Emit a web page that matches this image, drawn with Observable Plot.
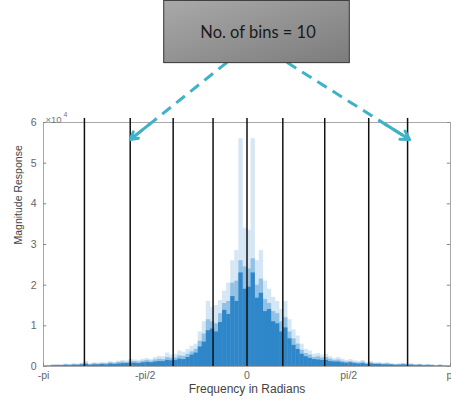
<!DOCTYPE html>
<html><head><meta charset="utf-8">
<script src="https://cdn.jsdelivr.net/npm/d3@7"></script>
<script src="https://cdn.jsdelivr.net/npm/@observablehq/plot@0.6"></script>
<style>html,body{margin:0;padding:0;background:#fff;overflow:hidden}</style>
</head><body><div id="chart"></div>
<script>
// Spectrum bins (index k covers [k*0.02pi, (k+1)*0.02pi]), magnitudes in units of 10^4
const binIndex = d3.range(-50, 50);
const lightMag = [
 0.02,0.03,0.04,0.05,0.04,0.06,0.05,0.07,0.06,0.08,
 0.12,0.07,0.09,0.08,0.10,0.09,0.12,0.10,0.13,0.15,
 0.14,0.18,0.16,0.15,0.18,0.20,0.17,0.22,0.25,0.24,
 0.33,0.28,0.30,0.38,0.35,0.42,0.50,0.55,0.85,1.10,
 1.60,1.45,1.50,1.62,1.85,2.05,2.60,2.85,5.60,3.40,
 3.35,5.60,2.60,2.85,2.10,1.90,1.70,1.60,1.40,1.60,
 1.15,0.90,0.75,0.55,0.42,0.38,0.30,0.32,0.28,0.30,
 0.24,0.20,0.22,0.18,0.15,0.17,0.14,0.12,0.15,0.10,
 0.12,0.09,0.10,0.08,0.09,0.07,0.06,0.07,0.08,0.06,
 0.07,0.05,0.06,0.04,0.05,0.04,0.03,0.04,0.03,0.02];
const midMag = [
 0.01,0.02,0.03,0.03,0.03,0.04,0.04,0.05,0.04,0.06,
 0.08,0.05,0.07,0.06,0.07,0.07,0.09,0.08,0.10,0.11,
 0.10,0.13,0.12,0.11,0.13,0.15,0.13,0.16,0.18,0.17,
 0.22,0.20,0.21,0.26,0.25,0.30,0.36,0.42,0.62,0.80,
 1.15,1.10,1.05,1.30,1.55,1.60,2.05,2.10,2.60,2.45,
 2.40,2.65,2.00,2.15,1.65,1.55,1.35,1.30,1.10,1.20,
 0.85,0.68,0.55,0.40,0.32,0.28,0.22,0.24,0.21,0.22,
 0.18,0.15,0.16,0.13,0.11,0.12,0.10,0.09,0.11,0.07,
 0.09,0.07,0.07,0.06,0.07,0.05,0.04,0.05,0.06,0.04,
 0.05,0.04,0.04,0.03,0.04,0.03,0.02,0.03,0.02,0.01];
const darkMag = [
 0.01,0.01,0.02,0.02,0.02,0.03,0.02,0.03,0.03,0.04,
 0.05,0.03,0.04,0.04,0.05,0.04,0.06,0.05,0.06,0.07,
 0.07,0.08,0.08,0.07,0.09,0.10,0.09,0.11,0.12,0.12,
 0.15,0.14,0.15,0.18,0.17,0.22,0.28,0.33,0.48,0.60,
 0.88,0.92,0.85,1.08,1.38,1.28,1.72,1.60,2.30,1.90,
 1.95,2.30,1.68,1.80,1.35,1.40,1.10,1.05,0.85,0.95,
 0.68,0.52,0.42,0.30,0.24,0.20,0.17,0.16,0.15,0.15,
 0.12,0.11,0.11,0.09,0.08,0.09,0.07,0.06,0.07,0.05,
 0.06,0.05,0.05,0.04,0.04,0.04,0.03,0.03,0.04,0.03,
 0.03,0.02,0.03,0.02,0.02,0.02,0.01,0.02,0.01,0.01];
// bin boundaries (radians) - 9 edges => 10 bins
const binEdges = [-2.510, -1.803, -1.140, -0.524, 0, 0.553, 1.200, 1.879, 2.479];
const xTicks = [-Math.PI, -Math.PI/2, 0, Math.PI/2, Math.PI];
const xTickLabels = ["-pi", "-pi/2", "0", "pi/2", "pi"];
const yTicks = [0, 1, 2, 3, 4, 5, 6];
const boxLabel = "No. of bins = 10";
// annotation geometry in data coordinates
const boxArea = [{x1: -1.278, x2: 1.587, y1: 7.46, y2: 8.99}];
const boxText = [{x: 0.17, y: 8.22}];
const arrows = [
  {x1: -0.308, y1: 7.48, x2: -1.802, y2: 5.58},
  {x1: 0.616, y1: 7.48, x2: 2.510, y2: 5.58}
];

const step = 0.02 * Math.PI;
const table = binIndex.map((k, i) => ({
  x1: k * step, x2: (k + 1) * step + 0.004,
  light: lightMag[i], mid: midMag[i], dark: darkMag[i]
}));
const heads = arrows.map(a => ({
  x1: a.x2 - (a.x2 - a.x1) * 0.2, y1: a.y2 - (a.y2 - a.y1) * 0.2, x2: a.x2, y2: a.y2
}));
const teal = "#3fb2c8";

const plot = Plot.plot({
  width: 451, height: 401,
  marginTop: 122, marginBottom: 35, marginLeft: 43, marginRight: 1,
  style: {fontFamily: "'Liberation Sans', Arial, sans-serif", fontSize: "10px", background: "#fff"},
  x: {domain: [-Math.PI, Math.PI]},
  y: {domain: [0, 6]},
  marks: [
    Plot.rectY(table, {x1: "x1", x2: "x2", y: "light", fill: "#d5e7f5"}),
    Plot.rectY(table, {x1: "x1", x2: "x2", y: "mid", fill: "#92c1e6"}),
    Plot.rectY(table, {x1: "x1", x2: "x2", y: "dark", fill: "#2f87c9"}),
    Plot.frame({stroke: "#a8a8a8"}),
    Plot.ruleY(yTicks, {x1: -Math.PI, x2: -Math.PI + 0.05, stroke: "#888"}),
    Plot.ruleY(yTicks, {x1: Math.PI - 0.05, x2: Math.PI, stroke: "#888"}),
    Plot.ruleX(xTicks, {y1: 0, y2: 0.08, stroke: "#888"}),
    Plot.ruleX(binEdges, {y1: 0, y2: 6.1, stroke: "#111", strokeWidth: 1.5}),
    Plot.axisY({ticks: yTicks, tickFormat: d => String(d), tickSize: 0, tickPadding: 7, color: "#666", fontSize: 10.5, label: null}),
    Plot.axisX({ticks: xTicks, tickFormat: (d, i) => xTickLabels[i], tickSize: 0, tickPadding: 5, color: "#666", fontSize: 10.5, label: null}),
    Plot.text(["Magnitude Response"], {frameAnchor: "left", dx: -25, rotate: -90, lineAnchor: "middle", fill: "#444", fontSize: 10.5}),
    Plot.text(["Frequency in Radians"], {frameAnchor: "bottom", dy: 23, lineAnchor: "middle", fill: "#444", fontSize: 12}),
    Plot.text(["\u00d710"], {frameAnchor: "top-left", dx: 2, dy: -6, textAnchor: "start", fill: "#777", fontSize: 9.5}),
    Plot.text(["4"], {frameAnchor: "top-left", dx: 20, dy: -10, textAnchor: "start", fill: "#777", fontSize: 7}),
    Plot.link(arrows, {x1: "x1", y1: "y1", x2: "x2", y2: "y2", stroke: teal, strokeWidth: 3, strokeDasharray: "11,7", clip: false}),
    Plot.arrow(heads, {x1: "x1", y1: "y1", x2: "x2", y2: "y2", stroke: teal, strokeWidth: 3, headLength: 12, clip: false}),
    Plot.rect(boxArea, {x1: "x1", x2: "x2", y1: "y1", y2: "y2", fill: "url(#boxgrad)", stroke: "#333", strokeWidth: 1, clip: false}),
    Plot.text(boxText, {x: "x", y: "y", text: () => boxLabel, fill: "#1a1a1a", fontSize: 16.5, fontFamily: "Lato, 'Open Sans', sans-serif", clip: false})
  ]
});
const defs = d3.select(plot).insert("defs", ":first-child");
const g = defs.append("linearGradient").attr("id", "boxgrad").attr("x1", "0").attr("y1", "0").attr("x2", "1").attr("y2", "1");
g.append("stop").attr("offset", "0%").attr("stop-color", "#a9a9a9");
g.append("stop").attr("offset", "100%").attr("stop-color", "#7c7c7c");
document.getElementById("chart").appendChild(plot);
</script></body></html>
